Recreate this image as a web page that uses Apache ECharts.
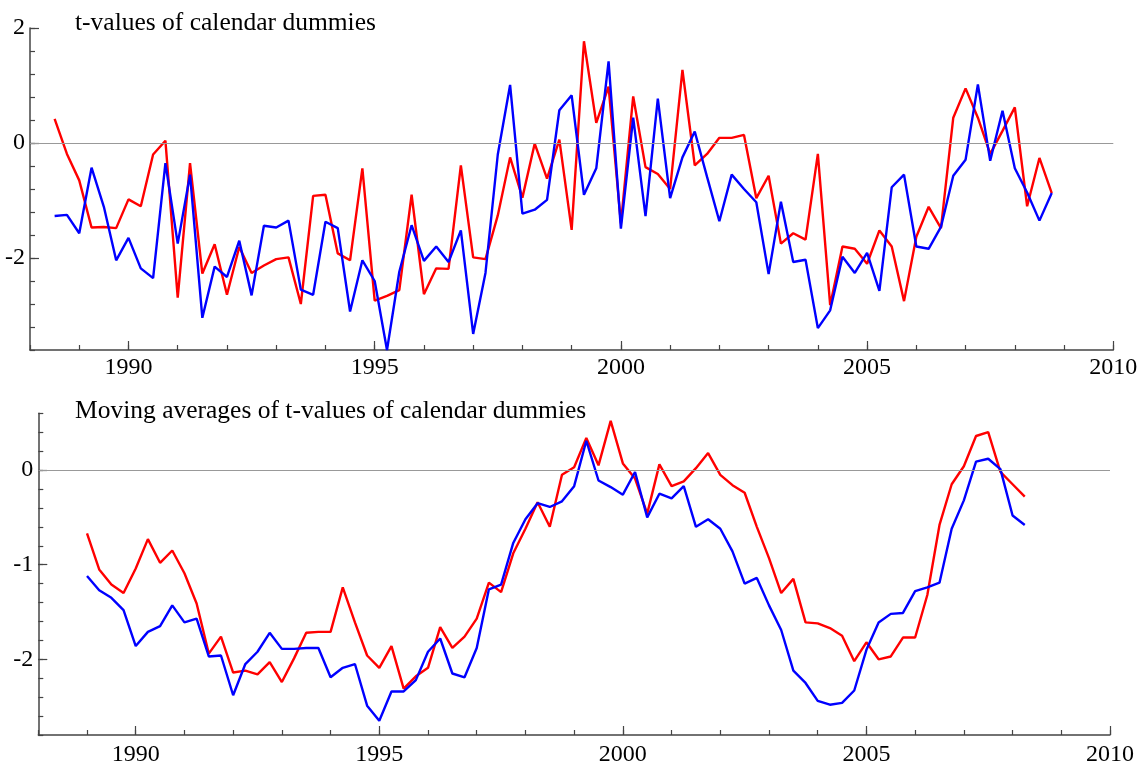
<!DOCTYPE html>
<html>
<head>
<meta charset="utf-8">
<script src="https://cdn.jsdelivr.net/npm/echarts@6/dist/echarts.min.js"></script>
<style>
html,body{margin:0;padding:0;background:#fff;}
#chart{width:1145px;height:767px;}
</style>
</head>
<body>
<div id="chart"></div>
<script>
// ---- Data (quarterly) ----
const topStart = 1988.5;   // first quarter of the t-value series
const maStart = 1989.0;    // first quarter of the moving-average series
const quarterStep = 0.25;

const topRed = [0.42,-0.19,-0.65,-1.47,-1.46,-1.48,-0.98,-1.10,-0.20,0.04,
  -2.69,-0.35,-2.27,-1.76,-2.64,-1.81,-2.26,-2.13,-2.02,-1.99,
  -2.80,-0.92,-0.90,-1.92,-2.04,-0.44,-2.74,-2.66,-2.56,-0.90,
  -2.63,-2.18,-2.19,-0.39,-1.99,-2.02,-1.26,-0.25,-0.95,-0.01,
  -0.62,0.06,-1.51,1.77,0.35,0.98,-1.40,0.81,-0.42,-0.54,
  -0.80,1.27,-0.39,-0.19,0.09,0.09,0.14,-0.96,-0.57,-1.75,
  -1.57,-1.68,-0.19,-2.82,-1.80,-1.84,-2.10,-1.52,-1.80,-2.75,
  -1.63,-1.11,-1.48,0.44,0.95,0.44,-0.19,0.21,0.62,-1.10,
  -0.26,-0.87];

const topBlue = [-1.27,-1.25,-1.57,-0.43,-1.11,-2.04,-1.65,-2.18,-2.35,-0.35,
  -1.75,-0.55,-3.04,-2.15,-2.33,-1.70,-2.65,-1.44,-1.47,-1.35,
  -2.55,-2.64,-1.37,-1.48,-2.93,-2.04,-2.40,-3.60,-2.24,-1.43,
  -2.05,-1.80,-2.07,-1.52,-3.32,-2.26,-0.20,1.01,-1.23,-1.16,
  -0.99,0.57,0.83,-0.90,-0.44,1.42,-1.49,0.44,-1.27,0.77,
  -0.96,-0.25,0.20,-0.59,-1.36,-0.55,-0.80,-1.03,-2.28,-1.02,
  -2.07,-2.03,-3.22,-2.91,-1.98,-2.26,-1.91,-2.57,-0.77,-0.55,
  -1.80,-1.84,-1.46,-0.57,-0.29,1.02,-0.31,0.56,-0.44,-0.86,
  -1.35,-0.87];

const maRed = [-0.67,-1.05,-1.21,-1.30,-1.04,-0.73,-0.98,-0.85,-1.09,-1.41,
  -1.94,-1.76,-2.14,-2.12,-2.16,-2.03,-2.24,-1.99,-1.72,-1.71,
  -1.71,-1.24,-1.61,-1.96,-2.09,-1.86,-2.31,-2.18,-2.09,-1.66,
  -1.88,-1.76,-1.57,-1.19,-1.29,-0.88,-0.62,-0.34,-0.60,-0.05,
  0.03,0.34,0.05,0.52,0.07,-0.09,-0.46,0.06,-0.17,-0.12,
  0.02,0.18,-0.05,-0.16,-0.24,-0.60,-0.93,-1.30,-1.15,-1.61,
  -1.62,-1.67,-1.75,-2.02,-1.82,-2.00,-1.97,-1.77,-1.77,-1.32,
  -0.58,-0.15,0.04,0.36,0.40,-0.02,-0.15,-0.28];

const maBlue = [-1.12,-1.27,-1.35,-1.48,-1.86,-1.71,-1.65,-1.43,-1.61,-1.57,
  -1.97,-1.96,-2.38,-2.05,-1.92,-1.72,-1.89,-1.89,-1.88,-1.88,
  -2.19,-2.09,-2.05,-2.49,-2.65,-2.34,-2.34,-2.22,-1.92,-1.78,
  -2.15,-2.19,-1.88,-1.26,-1.21,-0.77,-0.52,-0.35,-0.39,-0.33,
  -0.17,0.31,-0.11,-0.18,-0.26,-0.02,-0.50,-0.25,-0.30,-0.17,
  -0.60,-0.52,-0.62,-0.86,-1.20,-1.14,-1.43,-1.69,-2.12,-2.25,
  -2.44,-2.48,-2.46,-2.33,-1.90,-1.61,-1.52,-1.51,-1.28,-1.24,
  -1.19,-0.62,-0.32,0.09,0.12,0.01,-0.48,-0.58];

const xLabels = [1990, 1995, 2000, 2005, 2010];
const topYLabels = [-2, 0, 2];
const maYLabels = [-2, -1, 0];
const titles = ['t-values of calendar dummies', 'Moving averages of t-values of calendar dummies'];

// ---- Build ----
function pairs(start, vals) {
  return vals.map((v, i) => [start + i * quarterStep, v]);
}

const FONT = 'Liberation Serif';
const AXIS_COLOR = '#444';
const labelStyle = { fontFamily: FONT, fontSize: 24, color: '#000' };
const titleStyle = { fontFamily: FONT, fontSize: 25.5, fontWeight: 'normal', color: '#000' };

function xAxes(gridIndex, margin) {
  return [
    {
      type: 'value', gridIndex, min: 1988, max: 2010, interval: 1, position: 'bottom',
      axisLine: { show: true, onZero: false, lineStyle: { color: AXIS_COLOR, width: 1.5 } },
      axisTick: { show: true, inside: true, length: 5, lineStyle: { color: AXIS_COLOR, width: 1.2 } },
      axisLabel: { show: false }, splitLine: { show: false }
    },
    {
      type: 'value', gridIndex, min: 1988, max: 2010, position: 'bottom',
      axisLine: { show: false, onZero: false },
      axisTick: { show: true, inside: true, length: 9, customValues: xLabels, lineStyle: { color: AXIS_COLOR, width: 1.2 } },
      axisLabel: Object.assign({ show: true, margin: margin, customValues: xLabels, formatter: v => String(v) }, labelStyle),
      splitLine: { show: false }
    }
  ];
}

function yAxes(gridIndex, min, max, step, majors) {
  return [
    {
      type: 'value', gridIndex, min, max, interval: step, position: 'left',
      axisLine: { show: true, onZero: false, lineStyle: { color: AXIS_COLOR, width: 1.5 } },
      axisTick: { show: true, inside: true, length: 5, lineStyle: { color: AXIS_COLOR, width: 1.2 } },
      axisLabel: { show: false }, splitLine: { show: false }
    },
    {
      type: 'value', gridIndex, min, max, position: 'left',
      axisLine: { show: false, onZero: false },
      axisTick: { show: true, inside: true, length: 9, customValues: majors, lineStyle: { color: AXIS_COLOR, width: 1.2 } },
      axisLabel: Object.assign({ show: true, margin: 5, customValues: majors, formatter: v => String(v) }, labelStyle),
      splitLine: { show: false }
    }
  ];
}

function zeroLine() {
  return {
    silent: true, symbol: 'none', animation: false,
    label: { show: false },
    lineStyle: { color: '#999', width: 1.2, type: 'solid' },
    data: [{ yAxis: 0 }]
  };
}

function lineSeries(xi, yi, data, color, withZero) {
  const s = {
    type: 'line', xAxisIndex: xi, yAxisIndex: yi, data, showSymbol: false, symbol: 'none',
    lineStyle: { color, width: 2.4 }, itemStyle: { color }, silent: true, z: 3
  };
  if (withZero) s.markLine = zeroLine();
  return s;
}

const chart = echarts.init(document.getElementById('chart'), null, { renderer: 'canvas' });
chart.setOption({
  animation: false,
  backgroundColor: '#fff',
  title: [
    { text: titles[0], left: 70, top: 5, textStyle: titleStyle },
    { text: titles[1], left: 70, top: 393, textStyle: titleStyle }
  ],
  grid: [
    { left: 30, top: 28, width: 1083.3, height: 322 },
    { left: 38.3, top: 413.3, width: 1071.7, height: 321.7 }
  ],
  xAxis: [...xAxes(0, 6), ...xAxes(1, 8)],
  yAxis: [...yAxes(0, -3.6, 2, 0.4, topYLabels), ...yAxes(1, -2.8, 0.6, 0.2, maYLabels)],
  series: [
    lineSeries(0, 0, pairs(topStart, topRed), '#ff0000', true),
    lineSeries(0, 0, pairs(topStart, topBlue), '#0000ff', false),
    lineSeries(2, 2, pairs(maStart, maRed), '#ff0000', true),
    lineSeries(2, 2, pairs(maStart, maBlue), '#0000ff', false)
  ]
});
</script>
</body>
</html>
